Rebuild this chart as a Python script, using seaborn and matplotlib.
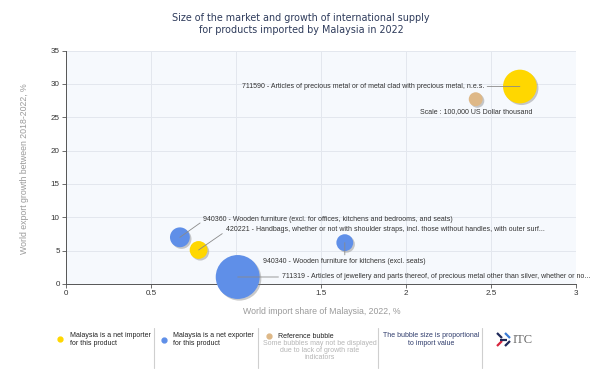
import numpy as np
import pandas as pd
import seaborn as sns
import matplotlib.pyplot as plt
from matplotlib import patheffects as pe
from matplotlib.lines import Line2D

# 数据：产品代码、描述、进口份额、出口增长、进口额
codes = ['711590', '940360', '420221', '940340', '711319', 'ref']
labels = [
    '711590 - Articles of precious metal or of metal clad with precious metal, n.e.s.',
    '940360 - Wooden furniture (excl. for offices, kitchens and bedrooms, and seats)',
    '420221 - Handbags, whether or not with shoulder straps, incl. those without handles, with outer surf...',
    '940340 - Wooden furniture for kitchens (excl. seats)',
    '711319 - Articles of jewellery and parts thereof, of precious metal other than silver, whether or no...',
    'Scale : 100,000 US Dollar thousand',
]
import_share = [2.67, 0.67, 0.78, 1.64, 1.01, 2.41]
export_growth = [29.6, 7.0, 5.1, 6.2, 1.05, 27.7]
import_value = [590000, 204000, 165000, 147000, 1030000, 100000]
status = ['importer', 'exporter', 'importer', 'exporter', 'exporter', 'reference']

x_ticks = [0, 0.5, 1, 1.5, 2, 2.5, 3]
x_tick_labels = ['0', '0.5', '1', '1.5', '2', '2.5', '3']
y_ticks = [0, 5, 10, 15, 20, 25, 30, 35]

colors = {'importer': '#FFD700', 'exporter': '#5F8FE8', 'reference': '#DEB887'}

df = pd.DataFrame({'code': codes, 'label': labels, 'x': import_share,
                   'y': export_growth, 'value': import_value, 'status': status})

sns.set_style('white')
plt.rcParams['font.family'] = ['Liberation Sans', 'DejaVu Sans']

fig = plt.figure(figsize=(6.02, 3.8), dpi=100)
ax = fig.add_axes([66 / 602, 96 / 380, 510 / 602, 233.5 / 380])
ax.set_facecolor('#F6F9FD')

sns.scatterplot(data=df, x='x', y='y', hue='status', palette=colors,
                size='value', sizes=(0, 1000), size_norm=(0, 1e6),
                linewidth=0, legend=False, ax=ax, zorder=3, clip_on=False)
for coll in ax.collections:
    coll.set_path_effects([pe.SimplePatchShadow(offset=(1.2, -1.2), shadow_rgbFace='#888888', alpha=0.45),
                           pe.Normal()])

# 标签位置（偏移量，单位 pt）
label_pos = {
    '711590': dict(off=(-25.9, 0), ha='right', va='center', rel=(1, 0.5)),
    '940360': dict(off=(16.9, 13), ha='left', va='center', rel=(0, 0.3)),
    '420221': dict(off=(19.4, 14.4), ha='left', va='center', rel=(0, 0.3)),
    '940340': dict(off=(0, -13.7), ha='center', va='center', rel=(0.5, 1)),
    '711319': dict(off=(31.7, 0), ha='left', va='center', rel=(0, 0.5)),
    'ref': dict(off=(0, -8.6), ha='center', va='center', rel=None),
}
for _, row in df.iterrows():
    p = label_pos[row['code']]
    arrow = None
    if p['rel'] is not None:
        arrow = dict(arrowstyle='-', color='#8a8a8a', lw=0.6, shrinkA=0, shrinkB=0, relpos=p['rel'])
    ax.annotate(row['label'], xy=(row['x'], row['y']), xytext=p['off'],
                textcoords='offset points', ha=p['ha'], va=p['va'], fontsize=5.0,
                color='#333333', arrowprops=arrow, annotation_clip=False, zorder=5)

ax.set_xlim(0, 3)
ax.set_ylim(0, 35)
ax.set_xticks(x_ticks)
ax.set_xticklabels(x_tick_labels)
ax.set_yticks(y_ticks)
ax.grid(True, color='#E3E7EE', lw=0.7)
ax.set_axisbelow(True)
ax.tick_params(axis='both', length=3, width=0.6, color='#555555', labelsize=5.8,
               labelcolor='#333333', pad=1.5, direction='out', bottom=True, left=True)
for s in ['top', 'right']:
    ax.spines[s].set_visible(False)
for s in ['left', 'bottom']:
    ax.spines[s].set_color('#555555')
    ax.spines[s].set_linewidth(0.7)
ax.set_xlabel('')
ax.set_ylabel('')

fig.text(322 / 602, 1 - 312 / 380, 'World import share of Malaysia, 2022, %',
         ha='center', va='center', fontsize=6.3, color='#9A9A9A')
fig.text(25 / 602, 1 - 169 / 380, 'World export growth between 2018-2022, %',
         ha='center', va='center', rotation=90, fontsize=6.3, color='#9A9A9A')

fig.text(301 / 602, 1 - 24 / 380,
         'Size of the market and growth of international supply\nfor products imported by Malaysia in 2022',
         ha='center', va='center', fontsize=6.9, color='#2E3B5B', linespacing=1.2,
         family=['DejaVu Sans'])

# 图例区域
def fy(py):
    return 1 - py / 380

for sx in [154, 258, 378, 482]:
    fig.add_artist(Line2D([sx / 602, sx / 602], [fy(328), fy(368)], color='#CFCFCF', lw=0.8))

fig.add_artist(Line2D([60 / 602], [fy(339)], marker='o', ms=3.5, color=colors['importer'], lw=0))
fig.text(70 / 602, fy(339.5), 'Malaysia is a net importer\nfor this product', ha='left', va='center',
         fontsize=5.0, color='#222222', linespacing=1.05)
fig.add_artist(Line2D([164 / 602], [fy(340)], marker='o', ms=3.5, color=colors['exporter'], lw=0))
fig.text(173 / 602, fy(339.5), 'Malaysia is a net exporter\nfor this product', ha='left', va='center',
         fontsize=5.0, color='#222222', linespacing=1.05)
fig.add_artist(Line2D([269 / 602], [fy(336)], marker='o', ms=3.5, color=colors['reference'], lw=0))
fig.text(278 / 602, fy(336), 'Reference bubble', ha='left', va='center', fontsize=5.0, color='#222222')
fig.text(320 / 602, fy(350.5), 'Some bubbles may not be displayed\ndue to lack of growth rate\nindicators',
         ha='center', va='center', fontsize=5.0, color='#B5B5B5', linespacing=1.05)
fig.text(431 / 602, fy(339.5), 'The bubble size is proportional\nto import value', ha='center', va='center',
         fontsize=5.0, color='#2E3B6B', linespacing=1.05)

# ITC 标志
for (x0, y0, x1, y1), c in [((497, 333, 502, 338), '#1F2A5A'), ((505, 346, 510, 341), '#1F2A5A'),
                            ((497, 346, 502, 341), '#D7263D'), ((505, 333, 510, 338), '#3A7BD5'),
                            ((500, 339.5, 507, 339.5), '#1F2A5A')]:
    fig.add_artist(Line2D([x0 / 602, x1 / 602], [fy(y0), fy(y1)], color=c, lw=1.6, solid_capstyle='butt'))
fig.text(513 / 602, fy(340), 'ITC', ha='left', va='center', fontsize=9,
         family=['Liberation Serif', 'DejaVu Serif'], color='#6A6A6A')

plt.savefig('out.png', dpi=100)
